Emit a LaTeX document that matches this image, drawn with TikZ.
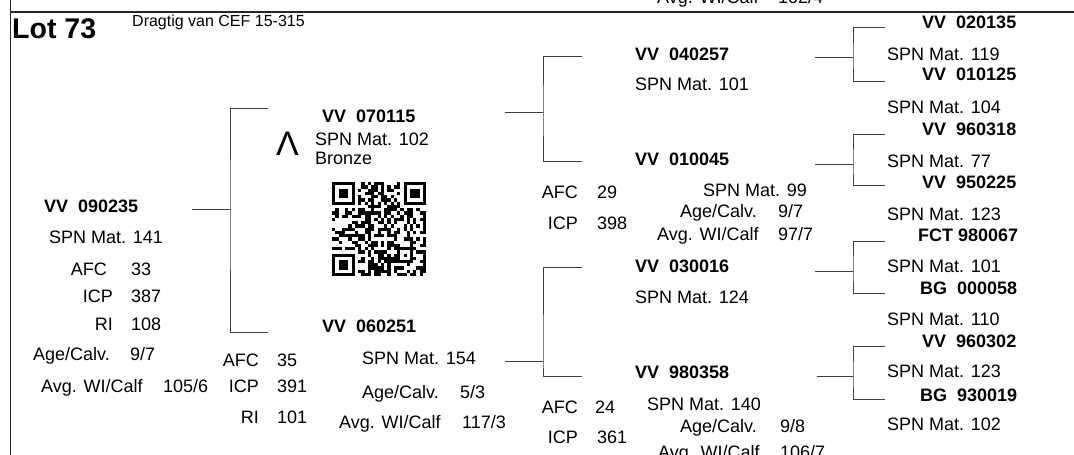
\documentclass[tikz,border=0pt]{standalone}
\usepackage{fontspec}
\setmainfont{Liberation Sans}
\usepackage{qrcode}
\newcommand\pedbracket[7]{%
  \coordinate (#1-s) at (#2,#5);
  \coordinate (#1-m) at (#3,#5);
  \coordinate (#1-t) at (#4,#6);
  \coordinate (#1-b) at (#4,#7);
  \draw[conn] (#1-s) -- (#1-m);
  \draw[conn] (#1-t) -| (#1-m) |- (#1-b);
}
\tikzset{
  txt/.style={font=\fontsize{18}{21}\selectfont, inner sep=0pt, anchor=base west},
  txtr/.style={txt, anchor=base east},
  idt/.style={txt, font=\fontsize{18}{21}\selectfont\bfseries},
  conn/.style={draw=black!75, line width=1pt},
  frame/.style={draw=black!85, line width=1.3pt}
}
\begin{document}
\begin{tikzpicture}[x=1pt,y=-1pt]
\useasboundingbox (0,0) rectangle (1074,455);
\clip (0,0) rectangle (1074,455);
% frame
\coordinate (ftop) at (10.5,0);
\coordinate (fbot) at (10.5,455);
\coordinate (hl) at (10.5,12);
\coordinate (hr) at (1074,12);
\draw[frame] (ftop) -- (fbot);
\draw[frame] (hl) -- (hr);
% header
\node[txt, font=\fontsize{28.5}{30}\selectfont\bfseries] (lot) at (12,38) {Lot 73};
\node[txt, font=\fontsize{16}{18}\selectfont] (drag) at (132,27) {Dragtig van CEF 15-315};
% clipped text from previous record (top)
\node[txt] (pavg) at (657,4) {Avg. WI/Calf};
\node[txt] (pavgv) at (778,4) {102/4};
% left animal
\node[idt] (a0) at (44,212) {VV\ \ 090235};
\node[txt] (a0spn) at (49,243) {SPN Mat. 141};
\node[txtr] (a0afcl) at (107,275) {AFC};
\node[txt] (a0afc) at (131,275) {33};
\node[txtr] (a0icpl) at (113,302) {ICP};
\node[txt] (a0icp) at (131,302) {387};
\node[txtr] (a0ril) at (113,330) {RI};
\node[txt] (a0ri) at (131,330) {108};
\node[txt] (a0agel) at (33,360) {Age/Calv.};
\node[txt] (a0age) at (130,360) {9/7};
\node[txt] (a0avgl) at (41,392) {Avg. WI/Calf};
\node[txt] (a0avg) at (163,392) {105/6};
\node[txtr] (b0afcl) at (259,366) {AFC};
\node[txt] (b0afc) at (277,366) {35};
\node[txtr] (b0icpl) at (259,392) {ICP};
\node[txt] (b0icp) at (277,392) {391};
\node[txtr] (b0ril) at (259,423) {RI};
\node[txt] (b0ri) at (277,423) {101};
% sire
\node[txt, font=\fontsize{34}{36}\selectfont] (lam) at (276,155) {Λ};
\node[idt] (s1) at (322,122) {VV\ \ 070115};
\node[txt] (s1spn) at (315,145) {SPN Mat. 102};
\node[txt] (s1br) at (315,164) {Bronze};
\node[inner sep=0pt, anchor=north west] (qr) at (332,182) {\qrcode[level=M,height=94pt]{https://www.example.org/VV070115}};
% dam
\node[idt] (d1) at (322,332) {VV\ \ 060251};
\node[txt] (d1spn) at (362,364) {SPN Mat. 154};
\node[txt] (d1agel) at (362,398) {Age/Calv.};
\node[txt] (d1age) at (460,398) {5/3};
\node[txt] (d1avgl) at (339,428) {Avg. WI/Calf};
\node[txt] (d1avg) at (462,428) {117/3};
% middle stats
\node[txtr] (m1afcl) at (578,198) {AFC};
\node[txt] (m1afc) at (597,198) {29};
\node[txtr] (m1icpl) at (578,229) {ICP};
\node[txt] (m1icp) at (597,229) {398};
\node[txtr] (m2afcl) at (578,413) {AFC};
\node[txt] (m2afc) at (595,413) {24};
\node[txtr] (m2icpl) at (578,443) {ICP};
\node[txt] (m2icp) at (597,443) {361};
% grandparents
\node[idt] (g1) at (635,60) {VV\ \ 040257};
\node[txt] (g1spn) at (635,90) {SPN Mat. 101};
\node[idt] (g2) at (635,165) {VV\ \ 010045};
\node[txt] (g2spn) at (703,196) {SPN Mat. 99};
\node[txt] (g2agel) at (680,217) {Age/Calv.};
\node[txt] (g2age) at (778,217) {9/7};
\node[txt] (g2avgl) at (657,240) {Avg. WI/Calf};
\node[txt] (g2avg) at (778,240) {97/7};
\node[idt] (g3) at (635,272) {VV\ \ 030016};
\node[txt] (g3spn) at (635,303) {SPN Mat. 124};
\node[idt] (g4) at (635,378) {VV\ \ 980358};
\node[txt] (g4spn) at (647,410) {SPN Mat. 140};
\node[txt] (g4agel) at (680,432) {Age/Calv.};
\node[txt] (g4age) at (780,432) {9/8};
\node[txt] (g4avgl) at (658,458) {Avg. WI/Calf};
\node[txt] (g4avg) at (780,458) {106/7};
% great-grandparents
\node[idt] (gg1) at (922,28) {VV\ \ 020135};
\node[txt] (gg1spn) at (887,60) {SPN Mat. 119};
\node[idt] (gg2) at (922,80) {VV\ \ 010125};
\node[txt] (gg2spn) at (887,113) {SPN Mat. 104};
\node[idt] (gg3) at (922,135) {VV\ \ 960318};
\node[txt] (gg3spn) at (887,167) {SPN Mat. 77};
\node[idt] (gg4) at (922,188) {VV\ \ 950225};
\node[txt] (gg4spn) at (887,220) {SPN Mat. 123};
\node[idt] (gg5) at (918,241) {FCT 980067};
\node[txt] (gg5spn) at (887,272) {SPN Mat. 101};
\node[idt] (gg6) at (920,294) {BG\ \ 000058};
\node[txt] (gg6spn) at (887,325) {SPN Mat. 110};
\node[idt] (gg7) at (922,347) {VV\ \ 960302};
\node[txt] (gg7spn) at (887,377) {SPN Mat. 123};
\node[idt] (gg8) at (920,401) {BG\ \ 930019};
\node[txt] (gg8spn) at (887,430) {SPN Mat. 102};
% brackets
\pedbracket{br1}{192}{230}{268}{209}{108}{332}
\pedbracket{br2}{505}{543}{582}{112}{56}{161}
\pedbracket{br3}{505}{543}{582}{361}{267}{376}
\pedbracket{br4}{815}{853}{885}{57}{27}{81}
\pedbracket{br5}{815}{853}{885}{164}{134}{185}
\pedbracket{br6}{815}{853}{885}{271}{241}{293}
\pedbracket{br7}{817}{853}{885}{376}{346}{399}
\end{tikzpicture}
\end{document}
